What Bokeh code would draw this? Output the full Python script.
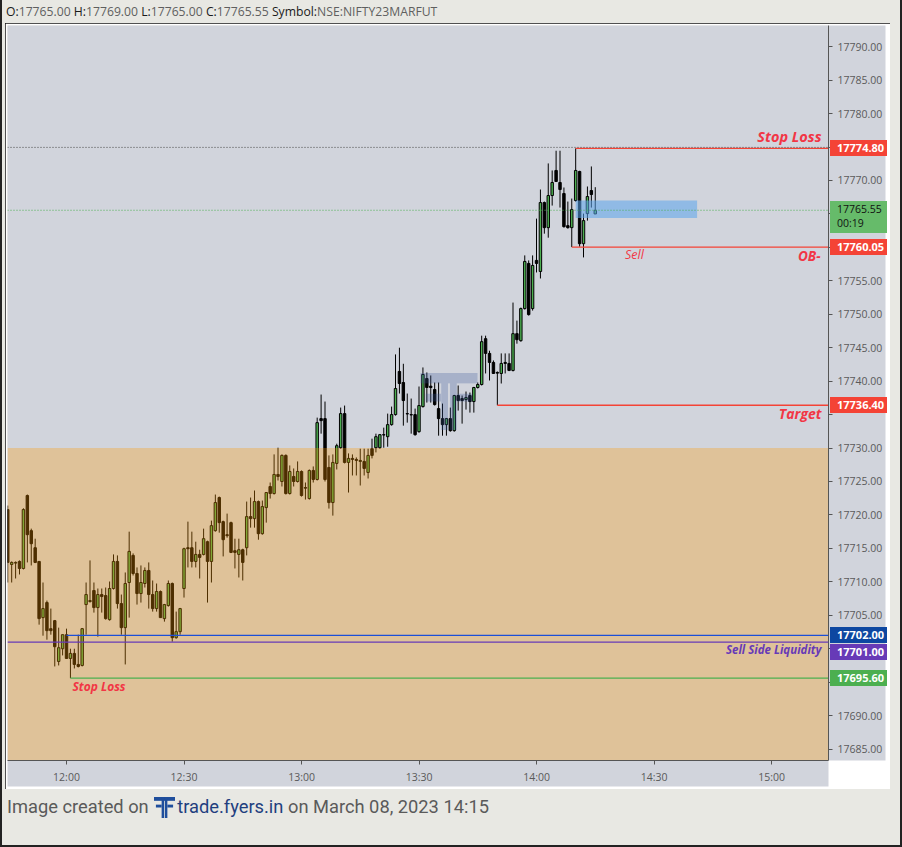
import pandas as pd
from bokeh.plotting import figure
from bokeh.models import (Range1d, FixedTicker, PrintfTickFormatter, DatetimeTickFormatter,
                          Span, Label, Div, ColumnDataSource)
from bokeh.layouts import column
from bokeh.embed import file_html
from bokeh.resources import INLINE

# ---------------- data (1-minute bars, NSE:NIFTY23MARFUT, 08 Mar 2023) ----------------
DAY = "2023-03-08"
FIRST_BAR = "11:45"

open_ = [17720.8, 17712.6, 17712.8, 17713.05, 17712.0, 17722.9, 17717.65, 17715.1, 17713.05, 17704.65,
         17706.9, 17703.0, 17704.2, 17698.1, 17700.0, 17702.1, 17698.55, 17699.3, 17697.65, 17697.5,
         17706.6, 17707.05, 17708.7, 17706.15, 17708.1, 17707.95, 17704.35, 17709.0, 17713.05, 17706.75,
         17703.15, 17709.9, 17713.95, 17711.25, 17708.25, 17709.75, 17711.7, 17708.1, 17706.0, 17708.55,
         17704.5, 17706.45, 17709.75, 17701.65, 17702.55, 17709.0, 17715.1, 17715.1, 17713.05, 17714.1,
         17714.1, 17716.0, 17713.05, 17717.65, 17722.6, 17719.0, 17717.05, 17718.85, 17714.65, 17714.1,
         17714.8, 17715.1, 17719.75, 17719.45, 17722.0, 17717.2, 17721.1, 17724.25, 17723.2, 17726.05,
         17725.0, 17728.9, 17723.2, 17725.75, 17725.0, 17726.5, 17724.1, 17722.45, 17726.65, 17725.3,
         17734.4, 17734.4, 17727.1, 17721.85, 17727.7, 17730.05, 17735.15, 17727.85, 17728.45, 17728.3,
         17728.0, 17728.0, 17726.35, 17729.9, 17730.05, 17730.05, 17732.0, 17731.7, 17733.5, 17735.0,
         17741.45, 17739.8, 17735.15, 17735.0, 17735.0, 17732.45, 17736.2, 17740.4, 17739.25, 17738.75,
         17735.9, 17734.4, 17733.5, 17734.4, 17732.6, 17737.85, 17737.4, 17737.25, 17737.85, 17736.95,
         17739.05, 17739.5, 17746.35, 17744.15, 17742.8, 17741.3, 17741.15, 17742.8, 17742.65, 17741.6,
         17747.1, 17746.05, 17750.85, 17757.6, 17750.85, 17758.05, 17756.4, 17766.7, 17762.95, 17767.75,
         17771.5, 17769.7, 17768.05, 17763.25, 17762.95, 17767.0, 17771.35, 17760.55, 17765.05, 17768.5,
         17765.0]

high = [17721.4, 17713.05, 17713.05, 17713.2, 17721.0, 17723.05, 17717.95, 17716.45, 17713.1, 17709.9,
        17707.2, 17706.0, 17704.3, 17703.15, 17702.1, 17703.0, 17700.0, 17700.0, 17702.1, 17703.1,
        17709.9, 17713.2, 17709.9, 17709.0, 17709.0, 17709.15, 17710.05, 17714.1, 17713.95, 17708.1,
        17711.4, 17717.5, 17714.25, 17712.15, 17712.45, 17712.15, 17712.9, 17710.2, 17709.75, 17708.7,
        17706.7, 17710.2, 17709.9, 17705.55, 17706.1, 17715.1, 17719.0, 17717.5, 17716.0, 17714.8,
        17717.95, 17716.15, 17719.15, 17723.05, 17722.75, 17719.15, 17720.2, 17719.0, 17716.45, 17716.45,
        17714.95, 17722.0, 17722.6, 17723.65, 17722.15, 17722.15, 17723.4, 17724.85, 17729.05, 17730.05,
        17729.05, 17729.05, 17727.4, 17726.95, 17728.0, 17726.65, 17724.85, 17726.8, 17727.25, 17734.55,
        17738.0, 17736.95, 17728.9, 17729.05, 17730.65, 17736.05, 17736.35, 17729.2, 17729.05, 17728.6,
        17729.9, 17729.9, 17729.9, 17731.4, 17732.15, 17732.1, 17733.05, 17735.15, 17736.2, 17744.0,
        17745.0, 17742.6, 17738.15, 17737.4, 17735.9, 17739.2, 17742.05, 17741.3, 17740.85, 17739.8,
        17739.8, 17736.65, 17734.5, 17736.05, 17737.95, 17739.35, 17737.85, 17738.45, 17738.3, 17739.15,
        17739.8, 17746.8, 17746.8, 17744.55, 17743.1, 17741.45, 17744.15, 17744.15, 17744.15, 17751.75,
        17749.05, 17751.0, 17758.8, 17758.05, 17758.8, 17764.3, 17768.65, 17766.85, 17772.55, 17771.5,
        17774.45, 17774.45, 17768.95, 17766.85, 17767.3, 17774.8, 17771.45, 17765.05, 17769.1, 17772.1,
        17769.0]

low = [17709.9, 17709.9, 17710.5, 17711.1, 17711.85, 17712.9, 17712.45, 17712.8, 17703.6, 17701.95,
       17701.35, 17702.1, 17697.35, 17697.5, 17699.0, 17698.5, 17695.6, 17697.05, 17697.2, 17697.35,
       17702.1, 17706.9, 17705.4, 17701.8, 17705.4, 17704.35, 17704.2, 17708.85, 17706.0, 17702.1,
       17697.65, 17704.65, 17710.95, 17706.6, 17706.9, 17709.15, 17706.0, 17705.55, 17705.55, 17704.6,
       17704.05, 17706.3, 17701.05, 17701.5, 17702.1, 17707.65, 17712.15, 17712.15, 17712.15, 17710.5,
       17713.95, 17706.9, 17709.9, 17717.5, 17717.35, 17713.8, 17716.6, 17714.3, 17712.0, 17710.65,
       17710.2, 17713.95, 17718.1, 17718.1, 17716.3, 17717.05, 17718.85, 17722.45, 17723.05, 17725.15,
       17724.25, 17723.05, 17723.05, 17724.25, 17724.85, 17722.75, 17722.3, 17722.3, 17724.85, 17725.15,
       17732.15, 17725.0, 17720.95, 17719.9, 17726.8, 17729.9, 17727.7, 17723.35, 17725.9, 17725.9,
       17724.4, 17725.9, 17725.45, 17728.45, 17729.35, 17729.9, 17730.05, 17730.2, 17733.35, 17734.85,
       17738.15, 17733.35, 17733.8, 17732.15, 17731.85, 17732.3, 17736.05, 17736.8, 17736.8, 17736.35,
       17731.85, 17731.85, 17731.85, 17732.45, 17732.45, 17735.6, 17733.65, 17735.75, 17735.3, 17735.3,
       17738.9, 17739.35, 17741.15, 17740.1, 17741.1, 17736.4, 17739.65, 17741.15, 17741.5, 17741.45,
       17745.6, 17745.9, 17750.7, 17749.8, 17750.55, 17756.25, 17755.35, 17762.05, 17761.45, 17766.25,
       17769.8, 17765.95, 17762.95, 17762.8, 17760.05, 17766.85, 17760.1, 17758.5, 17764.0, 17765.95,
       17765.0]

close = [17712.9, 17712.9, 17712.9, 17712.0, 17720.8, 17717.05, 17715.7, 17712.9, 17704.5, 17706.0,
         17702.7, 17702.7, 17700.3, 17700.15, 17702.1, 17698.55, 17699.3, 17697.65, 17697.35, 17703.0,
         17708.1, 17707.2, 17706.15, 17708.1, 17707.8, 17704.5, 17709.0, 17713.05, 17706.75, 17703.15,
         17709.75, 17714.55, 17711.25, 17708.25, 17709.9, 17711.7, 17708.1, 17706.0, 17708.55, 17704.65,
         17706.6, 17709.75, 17701.65, 17702.55, 17706.0, 17714.95, 17714.95, 17713.05, 17714.1, 17713.65,
         17716.45, 17713.05, 17718.4, 17721.85, 17718.85, 17716.3, 17716.9, 17714.4, 17714.4, 17714.8,
         17712.9, 17719.75, 17719.45, 17722.0, 17717.2, 17721.25, 17723.35, 17723.2, 17726.05, 17725.75,
         17728.9, 17723.2, 17726.5, 17725.0, 17726.5, 17722.9, 17724.0, 17726.65, 17725.3, 17733.8,
         17734.1, 17725.3, 17721.85, 17727.85, 17730.35, 17735.15, 17727.85, 17728.45, 17728.3, 17728.15,
         17728.15, 17726.95, 17728.9, 17728.9, 17731.7, 17732.0, 17731.95, 17733.5, 17735.0, 17738.9,
         17739.65, 17737.1, 17735.1, 17734.95, 17732.0, 17736.35, 17741.0, 17739.05, 17739.05, 17736.5,
         17734.4, 17733.5, 17734.4, 17732.6, 17737.85, 17737.1, 17737.1, 17737.55, 17736.95, 17739.05,
         17739.5, 17745.9, 17744.15, 17742.8, 17741.15, 17741.2, 17742.65, 17742.65, 17741.6, 17747.1,
         17746.2, 17750.85, 17757.9, 17749.95, 17757.3, 17757.6, 17766.7, 17762.95, 17767.75, 17769.7,
         17769.85, 17768.65, 17763.1, 17762.95, 17765.65, 17771.5, 17760.55, 17764.0, 17767.6, 17767.9,
         17765.55]

time_tick_labels = ["12:00", "12:30", "13:00", "13:30", "14:00", "14:30", "15:00"]
price_ticks = list(range(17685, 17795, 5))

# marked levels
stop_loss_high = 17774.80
last_price = 17765.55
countdown = "00:19"
sell_level = 17760.05
target_level = 17736.40
blue_level = 17702.00
ssl_level = 17701.00
stop_loss_low = 17695.60
zone_top = 17730.00
ob_top, ob_bottom = 17767.0, 17764.4

# ---------------- helpers ----------------
def t(hhmm):
    return pd.Timestamp(f"{DAY} {hhmm}")

def ms(hhmm):
    return t(hhmm).value / 1e6

times = pd.date_range(t(FIRST_BAR), periods=len(open_), freq="1min")
src = ColumnDataSource(dict(t=times, o=open_, h=high, l=low, c=close))
inc = [c >= o for o, c in zip(open_, close)]
src_up = ColumnDataSource(dict(t=[x for x, k in zip(times, inc) if k],
                               o=[v for v, k in zip(open_, inc) if k],
                               c=[v for v, k in zip(close, inc) if k]))
src_dn = ColumnDataSource(dict(t=[x for x, k in zip(times, inc) if not k],
                               o=[v for v, k in zip(open_, inc) if not k],
                               c=[v for v, k in zip(close, inc) if not k]))

x_start = ms("11:44:56")
x_end = ms("15:14:33")
Y_TOP, Y_BOT = 17793.17, 17683.29
FONT = "Open Sans"
RED = "#f23645"
GRAY_BG = "#d1d4dc"

# figure geometry (page pixels)
FIG_X, FIG_Y = 5, 23
FRAME_L, FRAME_T, FRAME_W, FRAME_H = 2, 2, 821, 735

p = figure(width=885, height=766, x_axis_type="datetime", y_axis_location="right",
           x_range=Range1d(x_start, x_end), y_range=Range1d(Y_BOT, Y_TOP),
           toolbar_location=None, output_backend="svg", title=None,
           min_border_left=FRAME_L, min_border_top=FRAME_T,
           min_border_right=885 - FRAME_L - FRAME_W, min_border_bottom=766 - FRAME_T - FRAME_H)
p.margin = (0, 0, 0, FIG_X)
p.styles = {"outline": "2px solid #161616", "outline-offset": "-2px"}
p.background_fill_color = GRAY_BG
p.border_fill_color = "white"
p.outline_line_color = None
p.xgrid.visible = False
p.ygrid.visible = False

# axes
tagged = [stop_loss_high, last_price, sell_level, target_level, ssl_level, stop_loss_low]
p.yaxis.ticker = FixedTicker(ticks=price_ticks)
p.yaxis.formatter = PrintfTickFormatter(format="%.2f")
# tick labels that sit underneath a price tag are not shown (as on the reference)
p.yaxis.major_label_overrides = {tk: "" for tk in price_ticks
                                 if any(abs(tk - lv_) < 1.6 for lv_ in tagged) or tk in (17765, 17700)}
p.xaxis.ticker = FixedTicker(ticks=[ms(s) for s in time_tick_labels])
p.xaxis.formatter = DatetimeTickFormatter(minsec="%H:%M", minutes="%H:%M", hourmin="%H:%M", hours="%H:%M")
for ax in (p.xaxis[0], p.yaxis[0]):
    ax.background_fill_color = GRAY_BG
    ax.axis_line_color = "#555555"
    ax.major_tick_line_color = "#555555"
    ax.major_tick_out = 4
    ax.major_tick_in = 0
    ax.minor_tick_out = 0
    ax.minor_tick_in = 0
    ax.major_label_text_font = FONT
    ax.major_label_text_font_size = "10.5px"
    ax.major_label_text_color = "#5a5a5a"
p.yaxis.major_label_standoff = 5
p.xaxis.major_label_standoff = 5

# candles
W = 0.62 * 60000
p.segment("t", "h", "t", "l", source=src, line_color="black", line_width=1)
p.vbar(x="t", width=W, top="c", bottom="o", source=src_up, fill_color="#4caf50", line_color="black", line_width=1)
p.vbar(x="t", width=W, top="c", bottom="o", source=src_dn, fill_color="black", line_color="black", line_width=1)

# demand zone (semi-transparent, drawn over the candles)
p.quad(left=[x_start], right=[x_end], bottom=[Y_BOT], top=[zone_top],
       fill_color="#ff9800", fill_alpha=0.3, line_color=None)
# order block box
p.quad(left=[ms("14:10")], right=[ms("14:41")], bottom=[ob_bottom], top=[ob_top],
       fill_color="#5ba4ec", fill_alpha=0.55, line_color=None)

# horizontal levels
lv = ColumnDataSource(dict(
    x0=[ms("14:10"), ms("14:09"), ms("13:50"), ms("12:00"), ms("12:01")],
    x1=[x_end] * 5,
    y=[stop_loss_high, sell_level, target_level, blue_level, stop_loss_low],
    col=["#f44336", "#f44336", "#f44336", "#1c4fd8", "#4caf50"]))
p.segment("x0", "y", "x1", "y", source=lv, line_color="col", line_width=1.3)
p.add_layout(Span(location=stop_loss_high + 0.15, dimension="width", line_color="#444444", line_dash="1 2", line_width=1))
p.add_layout(Span(location=last_price, dimension="width", line_color="#4caf50", line_dash="1 2", line_width=1))
p.add_layout(Span(location=ssl_level, dimension="width", line_color="#673ab7", line_width=1.3))

def txt(text, x, y, color, size, style="bold italic", align="right", base="middle", xo=0, yo=0):
    p.add_layout(Label(x=x, y=y, text=text, text_color=color, text_font=FONT, text_font_size=size,
                       text_font_style=style, text_align=align, text_baseline=base,
                       x_offset=xo, y_offset=yo))

txt("Stop Loss", x_end, stop_loss_high, RED, "14.5px", base="bottom", xo=-7, yo=2)
txt("OB-", x_end, sell_level, RED, "13.5px", base="top", xo=-8, yo=0)
txt("Sell", ms("14:25"), sell_level, RED, "12.5px", style="italic", align="center", base="top", yo=1)
txt("Target", x_end, target_level, RED, "14px", base="top", xo=-7, yo=1)
txt("Sell Side Liquidity", x_end, ssl_level, "#673ab7", "11.5px", base="top", xo=-7, yo=0)
txt("Stop Loss", ms("12:01:30"), stop_loss_low, RED, "12px", align="left", base="top", yo=0)

# ---------------- price tags on the price scale + watermark (HTML overlay) ----------------
def page_y(price):
    return FIG_Y + FRAME_T + (Y_TOP - price) / (Y_TOP - Y_BOT) * FRAME_H

TAG_X = FIG_X + FRAME_L + FRAME_W + 2

def tag_html(text, price, bg, fg="#ffffff", dy=0, bold=True):
    top = page_y(price) - 8 + dy
    fw = "bold" if bold else "normal"
    return (f'<div style="position:absolute;left:{TAG_X}px;top:{top:.1f}px;width:57px;height:16px;'
            f'background:{bg};color:{fg};font-family:\'Open Sans\';font-size:11px;font-weight:{fw};'
            f'line-height:16px;padding-left:7px;box-sizing:border-box;white-space:nowrap">{text}</div>')

tags = "".join([
    tag_html(f"{stop_loss_high:.2f}", stop_loss_high, "#f44336"),
    tag_html(f"{sell_level:.2f}", sell_level, "#f44336"),
    tag_html(f"{target_level:.2f}", target_level, "#f44336"),
    tag_html(f"{blue_level:.2f}", blue_level, "#0d47a1"),
    tag_html(f"{ssl_level:.2f}", ssl_level, "#673ab7", dy=10),
    tag_html(f"{stop_loss_low:.2f}", stop_loss_low, "#4caf50"),
])
lp_top = page_y(last_price) - 9
tags += (f'<div style="position:absolute;left:{TAG_X}px;top:{lp_top:.1f}px;width:57px;height:32px;'
         f'background:#66bb6a"></div>')
for i, line in enumerate([f"{last_price:.2f}", countdown]):
    tags += (f'<div style="position:absolute;left:{TAG_X + 7}px;top:{lp_top + 2 + 14 * i:.1f}px;'
             f'height:13px;color:#111;font-family:\'Open Sans\';font-size:10.5px;line-height:13px;'
             f'white-space:nowrap">{line}</div>')

def logo_svg(w, h, color, opacity=1.0, extra=""):
    return (f'<svg width="{w}" height="{h}" viewBox="0 0 22 22" style="opacity:{opacity};{extra}">'
            f'<rect x="0" y="0" width="22" height="4" fill="{color}"/>'
            f'<rect x="8" y="0" width="2.6" height="22" fill="{color}"/>'
            f'<rect x="11.4" y="0" width="2.6" height="22" fill="{color}"/>'
            f'<rect x="2" y="8" width="6" height="3" fill="{color}"/>'
            f'<rect x="14" y="8" width="6" height="3" fill="{color}"/></svg>')

watermark = (f'<div style="position:absolute;left:420px;top:373px">'
             f'{logo_svg(58, 57, "#3d5a99", 0.28)}</div>')

overlay = Div(text=f'<div style="position:relative;width:902px;height:847px">{watermark}{tags}</div>',
              width=902, height=847, margin=0,
              styles={"position": "absolute", "left": "0px", "top": "0px", "z-index": "10",
                      "pointer-events": "none"})

# ---------------- header / footer ----------------
o_, h_, l_, c_ = open_[-1], high[-1], low[-1], close[-1]
g = 'style="color:#5f5f5f"'
header = Div(text=(f'<div style="font-family:\'Open Sans\';font-size:12.2px;'
                   f'line-height:23px;padding-left:6px;color:#1a1a1a;white-space:nowrap">'
                   f'O:<span {g}>{o_:.2f}</span> H:<span {g}>{h_:.2f}</span> '
                   f'L:<span {g}>{l_:.2f}</span> C:<span {g}>{c_:.2f}</span> '
                   f'Symbol:<span {g}>NSE:NIFTY23MARFUT</span></div>'),
             width=902, height=23, margin=0)

footer = Div(text=('<div style="font-family:Roboto;font-size:18.3px;color:#5a5a5a;padding:5px 0 0 7px;'
                   'white-space:nowrap;display:flex;align-items:center">Image created on&nbsp;'
                   f'{logo_svg(21, 21, "#1f4e9c", 1.0, "margin:0 2px 0 1px")}'
                   '<span style="color:#1f3f7f">trade.fyers.in</span>&nbsp;on March 08, 2023 14:15</div>'),
             width=902, height=58, margin=0)

layout = column(header, p, footer, overlay, width=902, height=847, spacing=0,
                styles={"background-color": "#e8e8e3", "position": "relative",
                        "box-shadow": "inset 2px 0 0 #222, inset -2px 0 0 #222, inset 0 -2px 0 #222"})

open("out.html", "w").write(file_html(layout, INLINE))
